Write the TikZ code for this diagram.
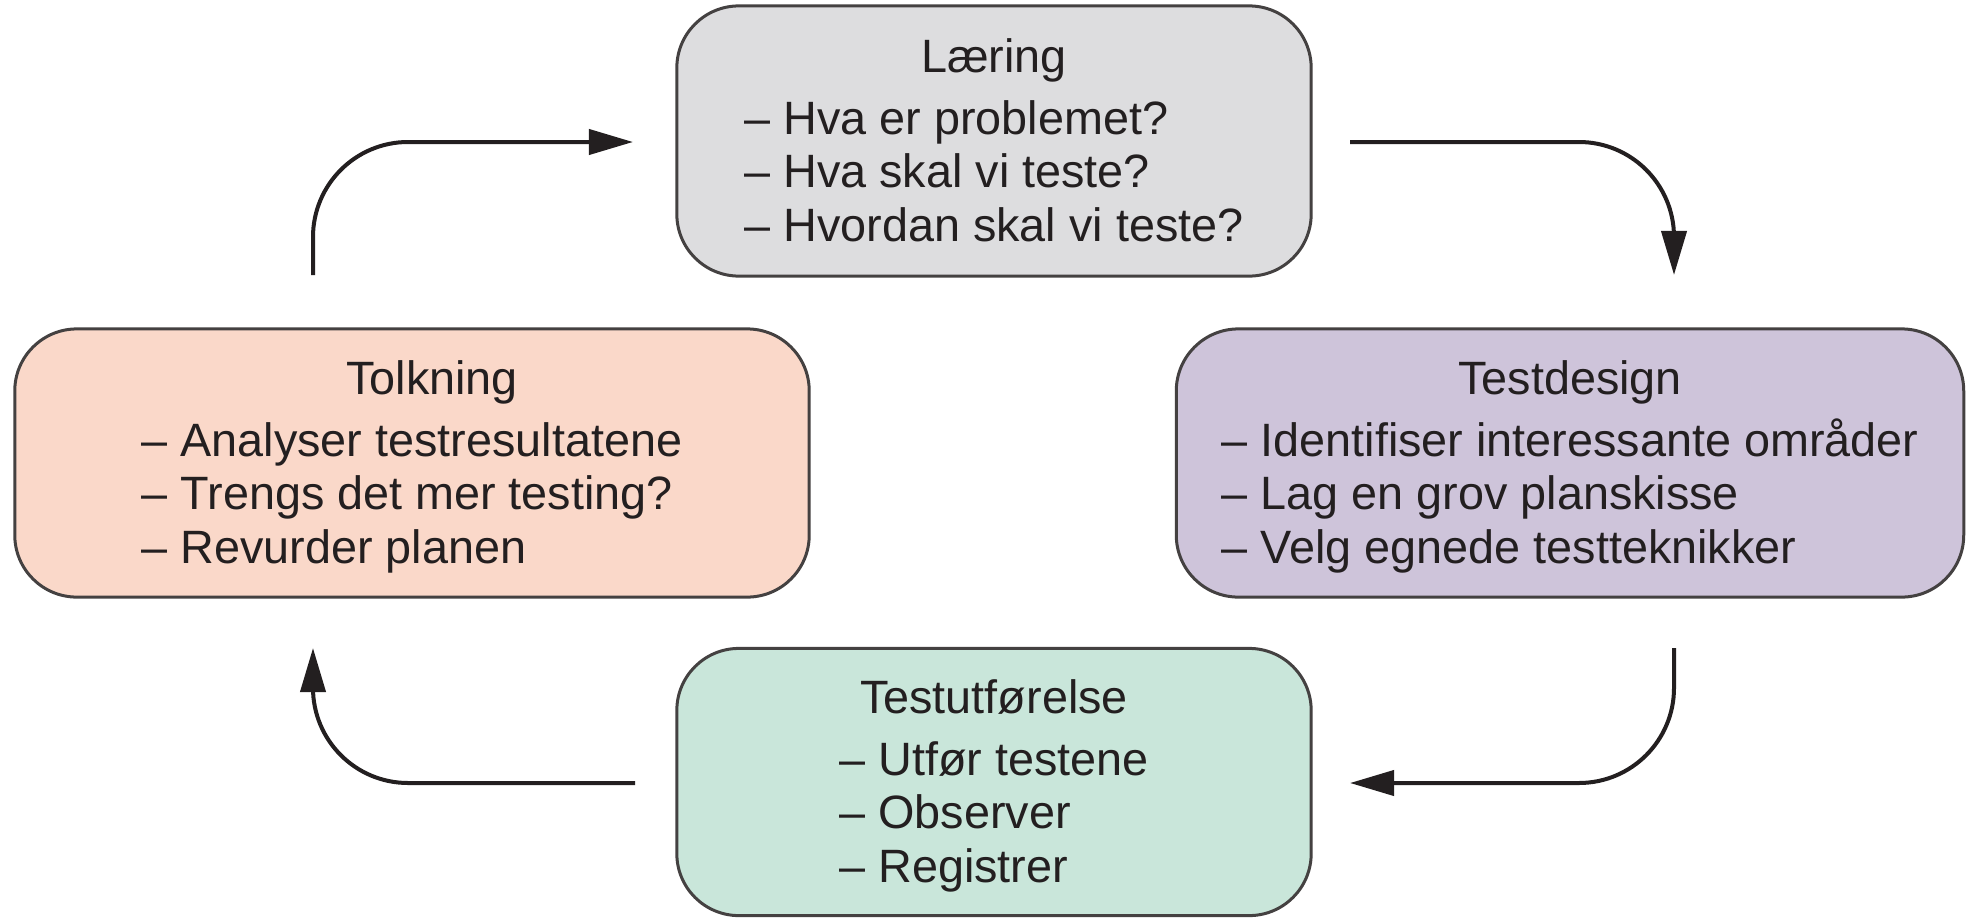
\documentclass[tikz,border=0pt]{standalone}
\usepackage{fontspec}
\setmainfont{Liberation Sans}
\usetikzlibrary{arrows.meta}
\definecolor{lgray}{RGB}{221,221,223}
\definecolor{lpeach}{RGB}{250,216,201}
\definecolor{llav}{RGB}{206,196,218}
\definecolor{lmint}{RGB}{201,230,218}
\definecolor{ink}{RGB}{35,31,32}
\newcommand{\phasetitle}[1]{\multicolumn{1}{@{}c@{}}{\rule{0pt}{13.5pt}#1}\\[2.5pt]}
\begin{document}
\begin{tikzpicture}[x=0.01cm,y=-0.01cm,
  phase/.style={draw=ink!85,line width=0.03cm,rounded corners=0.62cm,
    inner sep=0pt,text=ink,
    font=\fontsize{13.3}{15.2}\selectfont},
  flow/.style={draw=ink,line width=0.04cm,rounded corners=0.95cm,
    -{Triangle[length=0.44cm,width=0.25cm]}}]
\useasboundingbox (0,0) rectangle (1967,918);
\node[phase,fill=lgray,minimum width=6.34cm,minimum height=2.70cm] (laer) at (994,141)
  {\begin{tabular}{@{}l@{}}\phasetitle{Læring}
   – Hva er problemet?\\ – Hva skal vi teste?\\ – Hvordan skal vi teste?\end{tabular}};
\node[phase,fill=lpeach,minimum width=7.94cm,minimum height=2.68cm] (tolk) at (412,463)
  {\begin{tabular}{@{}l@{}}\phasetitle{\hspace{0.4cm}Tolkning}
   – Analyser testresultatene\\ – Trengs det mer testing?\\ – Revurder planen\end{tabular}};
\node[phase,fill=llav,minimum width=7.87cm,minimum height=2.68cm] (design) at (1570,463)
  {\begin{tabular}{@{}l@{}}\phasetitle{Testdesign}
   – Identifiser interessante områder\\ – Lag en grov planskisse\\ – Velg egnede testteknikker\end{tabular}};
\node[phase,fill=lmint,minimum width=6.34cm,minimum height=2.67cm] (utf) at (994,782)
  {\begin{tabular}{@{}l@{}}\phasetitle{Testutførelse}
   – Utfør testene\\ – Observer\\ – Registrer\end{tabular}};
\coordinate (a1s) at (313,275);
\coordinate (a1e) at (633,142);
\coordinate (a2s) at (1350,142);
\coordinate (a2e) at (1674,275);
\coordinate (a3s) at (1674,648);
\coordinate (a3e) at (1350,783);
\coordinate (a4s) at (635,783);
\coordinate (a4e) at (313,648);
\draw[flow] (a1s) |- (a1e);
\draw[flow] (a2s) -| (a2e);
\draw[flow] (a3s) |- (a3e);
\draw[flow] (a4s) -| (a4e);
\end{tikzpicture}
\end{document}
